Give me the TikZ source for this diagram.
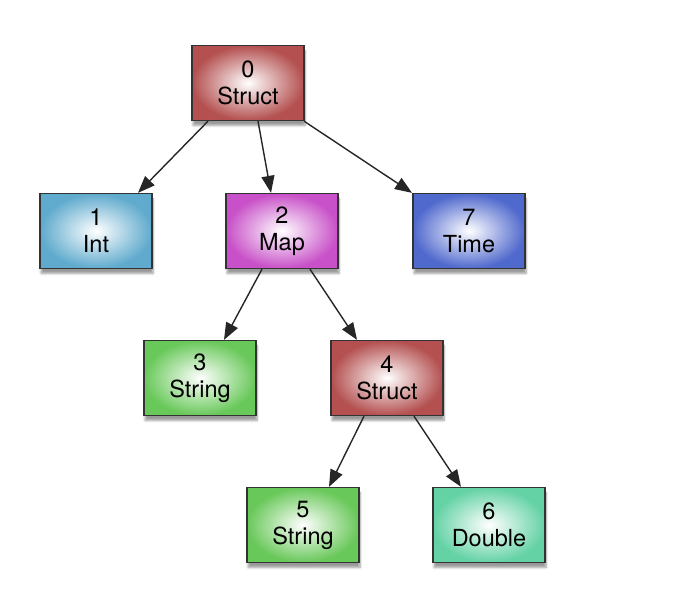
\documentclass[tikz,border=0pt]{standalone}
\usepackage{fontspec}
\setmainfont{TeX Gyre Heros}
\usetikzlibrary{arrows.meta,shadows.blur}

\definecolor{structred}{RGB}{180,80,80}
\definecolor{mapmag}{RGB}{200,80,200}
\definecolor{intblue}{RGB}{95,170,205}
\definecolor{timeblue}{RGB}{80,105,205}
\definecolor{strgreen}{RGB}{105,200,90}
\definecolor{dblmint}{RGB}{100,210,165}

\tikzset{
  typebox/.style={draw=black!80, line width=1.3pt, shading=radial,
    inner color=white, outer color=#1, minimum width=112pt,
    minimum height=75pt, align=center, inner sep=0pt,
    font=\fontsize{23.5}{27}\selectfont,
    blur shadow={shadow xshift=1pt, shadow yshift=-5pt, shadow blur steps=8}},
  ptr/.style={-{Triangle[length=17pt,width=13pt]}, line width=1.4pt, black!85}
}

\begin{document}
\begin{tikzpicture}[x=1pt,y=1pt]
\useasboundingbox (0,0) rectangle (696,-612);

  \node[typebox=structred] (s0) at (248,-83)  {0\\Struct};
  \node[typebox=intblue]   (i1) at ( 96,-231) {1\\Int};
  \node[typebox=mapmag]    (m2) at (282,-231) {2\\Map};
  \node[typebox=timeblue]  (t7) at (469,-231) {7\\Time};
  \node[typebox=strgreen]  (s3) at (200,-378) {3\\String};
  \node[typebox=structred] (s4) at (387,-378) {4\\Struct};
  \node[typebox=strgreen]  (s5) at (303,-525) {5\\String};
  \node[typebox=dblmint]   (d6) at (489,-525) {6\\Double};

  \draw[ptr] ([xshift=-40pt]s0.south) -- ([xshift= 42pt]i1.north);
  \draw[ptr] ([xshift= 10pt]s0.south) -- ([xshift=-11pt]m2.north);
  \draw[ptr] ([xshift= 56pt]s0.south) -- ([xshift=-57pt]t7.north);

  \draw[ptr] ([xshift=-20pt]m2.south) -- ([xshift= 24pt]s3.north);
  \draw[ptr] ([xshift= 28pt]m2.south) -- ([xshift=-30pt]s4.north);

  \draw[ptr] ([xshift=-23pt]s4.south) -- ([xshift= 26pt]s5.north);
  \draw[ptr] ([xshift= 27pt]s4.south) -- ([xshift=-28pt]d6.north);

\end{tikzpicture}
\end{document}
